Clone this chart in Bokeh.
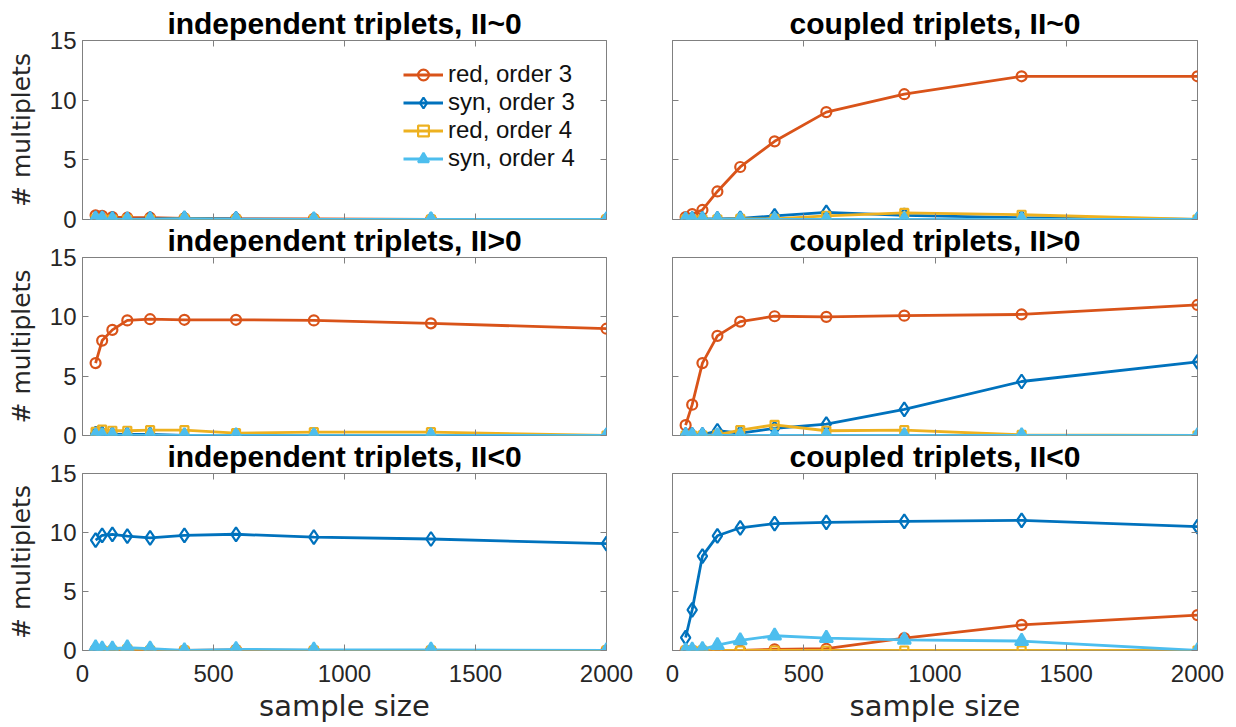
from bokeh.plotting import figure
from bokeh.layouts import column, row
from bokeh.models import Range1d, LinearAxis, Legend, LegendItem, Title
from bokeh.embed import file_html
from bokeh.resources import INLINE

# sample sizes (x positions shared by every panel)
sample_size = [50, 75, 114, 171, 258, 389, 586, 883, 1330, 2000]
x_ticks = [0, 500, 1000, 1500, 2000]
y_ticks = [0, 5, 10, 15]

series_names = ["red, order 3", "syn, order 3", "red, order 4", "syn, order 4"]

# independent triplets, II~0
ind_zero_red3 = [0.35, 0.3, 0.2, 0.15, 0.15, 0.1, 0.05, 0.05, 0.0, 0.0]
ind_zero_syn3 = [0.1, 0.1, 0.05, 0.0, 0.05, 0.1, 0.05, 0.0, 0.0, 0.0]
ind_zero_red4 = [0.05, 0.05, 0.0, 0.0, 0.0, 0.05, 0.0, 0.0, 0.0, 0.0]
ind_zero_syn4 = [0.05, 0.05, 0.0, 0.0, 0.0, 0.05, 0.0, 0.0, 0.0, 0.0]

# coupled triplets, II~0
cpl_zero_red3 = [0.2, 0.45, 0.8, 2.35, 4.4, 6.55, 9.0, 10.5, 12.0, 12.0]
cpl_zero_syn3 = [0.0, 0.05, 0.05, 0.05, 0.1, 0.3, 0.6, 0.35, 0.15, 0.0]
cpl_zero_red4 = [0.0, 0.0, 0.0, 0.0, 0.05, 0.05, 0.3, 0.55, 0.4, 0.0]
cpl_zero_syn4 = [0.0, 0.0, 0.0, 0.0, 0.0, 0.0, 0.0, 0.0, 0.0, 0.0]

# independent triplets, II>0
ind_pos_red3 = [6.1, 8.0, 8.9, 9.7, 9.8, 9.75, 9.75, 9.7, 9.45, 9.0]
ind_pos_syn3 = [0.15, 0.15, 0.1, 0.1, 0.1, 0.0, 0.0, 0.0, 0.0, 0.0]
ind_pos_red4 = [0.3, 0.5, 0.4, 0.4, 0.45, 0.45, 0.2, 0.28, 0.28, 0.0]
ind_pos_syn4 = [0.0, 0.0, 0.0, 0.0, 0.0, 0.0, 0.0, 0.0, 0.0, 0.0]

# coupled triplets, II>0
cpl_pos_red3 = [0.87, 2.6, 6.1, 8.4, 9.6, 10.05, 10.0, 10.1, 10.2, 11.0]
cpl_pos_syn3 = [0.05, 0.05, 0.05, 0.4, 0.2, 0.6, 0.95, 2.2, 4.55, 6.2]
cpl_pos_red4 = [0.0, 0.0, 0.0, 0.05, 0.45, 0.9, 0.4, 0.45, 0.05, 0.0]
cpl_pos_syn4 = [0.0, 0.0, 0.0, 0.0, 0.0, 0.0, 0.0, 0.0, 0.0, 0.0]

# independent triplets, II<0
ind_neg_red3 = [0.05, 0.0, 0.0, 0.05, 0.0, 0.0, 0.05, 0.0, 0.0, 0.0]
ind_neg_syn3 = [9.35, 9.75, 9.85, 9.7, 9.55, 9.75, 9.85, 9.6, 9.45, 9.05]
ind_neg_red4 = [0.0, 0.0, 0.0, 0.1, 0.0, 0.0, 0.0, 0.0, 0.0, 0.0]
ind_neg_syn4 = [0.25, 0.15, 0.15, 0.25, 0.15, 0.0, 0.1, 0.05, 0.05, 0.0]

# coupled triplets, II<0
cpl_neg_red3 = [0.0, 0.0, 0.0, 0.0, 0.0, 0.1, 0.15, 1.05, 2.17, 3.0]
cpl_neg_syn3 = [1.1, 3.45, 8.0, 9.72, 10.4, 10.75, 10.86, 10.95, 11.03, 10.5]
cpl_neg_red4 = [0.0, 0.0, 0.0, 0.0, 0.0, 0.0, 0.0, 0.0, 0.0, 0.0]
cpl_neg_syn4 = [0.0, 0.05, 0.1, 0.45, 0.85, 1.25, 1.05, 0.9, 0.8, 0.0]

panels = [
    ("independent triplets, II~0", [ind_zero_red3, ind_zero_syn3, ind_zero_red4, ind_zero_syn4]),
    ("coupled triplets, II~0", [cpl_zero_red3, cpl_zero_syn3, cpl_zero_red4, cpl_zero_syn4]),
    ("independent triplets, II>0", [ind_pos_red3, ind_pos_syn3, ind_pos_red4, ind_pos_syn4]),
    ("coupled triplets, II>0", [cpl_pos_red3, cpl_pos_syn3, cpl_pos_red4, cpl_pos_syn4]),
    ("independent triplets, II<0", [ind_neg_red3, ind_neg_syn3, ind_neg_red4, ind_neg_syn4]),
    ("coupled triplets, II<0", [cpl_neg_red3, cpl_neg_syn3, cpl_neg_red4, cpl_neg_syn4]),
]

COLORS = ["#D95319", "#0072BD", "#EDB120", "#4DBEEE"]
MARKERS = ["circle", "diamond", "square", "triangle"]
SIZES = [10, 14, 8, 13]
FILLED = [False, False, False, True]

BOX = "#808080"
TICK_TEXT = "#262626"
TICK_FONT = "Liberation Sans"

COL_W = [640, 596]
COL_BORDER = [(82, 34), (32, 39)]
# rows overlap a little (transparent borders) so each title can sit close
# to the panel above it without cutting that panel's lowest tick label
ROW_H = [234, 230, 291]
ROW_BORDER = [(40, 15), (36, 15), (35, 77)]
ROW_SHIFT = [0, -14, -14]


def style_axis(ax, show_labels):
    ax.axis_line_color = None
    ax.major_tick_in = 6
    ax.major_tick_out = 0
    ax.major_tick_line_color = BOX
    ax.minor_tick_line_color = None
    ax.major_label_text_font = TICK_FONT
    if show_labels:
        ax.major_label_text_font_size = "24px"
        ax.major_label_text_color = TICK_TEXT
    else:
        ax.major_label_text_font_size = "1px"
        ax.major_label_text_color = None
        ax.major_label_standoff = 0


def make_panel(idx, title, values):
    r, c = divmod(idx, 2)
    p = figure(
        width=COL_W[c], height=ROW_H[r],
        x_range=Range1d(0, 2000), y_range=Range1d(0, 15),
        output_backend="svg", toolbar_location=None,
        min_border_left=COL_BORDER[c][0], min_border_right=COL_BORDER[c][1],
        min_border_top=ROW_BORDER[r][0], min_border_bottom=ROW_BORDER[r][1],
        background_fill_color="white", border_fill_alpha=0 if r > 0 else 1,
        margin=(ROW_SHIFT[r], 0, 0, 0),
    )
    p.title = Title(text=title, align="center", text_font="Liberation Sans",
                    text_font_style="bold", text_font_size="30px",
                    text_color="black", standoff=2)
    p.xgrid.visible = False
    p.ygrid.visible = False
    p.outline_line_color = BOX
    p.outline_line_width = 1

    p.add_layout(LinearAxis(), "above")
    p.add_layout(LinearAxis(), "right")
    p.xaxis.ticker = x_ticks
    p.yaxis.ticker = y_ticks

    bottom_row = (r == 2)
    left_col = (c == 0)
    style_axis(p.below[0], bottom_row)
    style_axis(p.left[0], left_col)
    style_axis(p.above[0], False)
    style_axis(p.right[0], False)
    if bottom_row:
        ax = p.below[0]
        ax.major_label_standoff = 14
        ax.axis_label = "sample size"
        ax.axis_label_text_font = "DejaVu Sans"
        ax.axis_label_text_font_size = "29px"
        ax.axis_label_text_font_style = "normal"
        ax.axis_label_text_color = TICK_TEXT
        ax.axis_label_standoff = 4
    if left_col:
        ax = p.left[0]
        ax.major_label_standoff = 6
        ax.axis_label = "# multiplets"
        ax.axis_label_text_font = "DejaVu Sans"
        ax.axis_label_text_font_size = "25px"
        ax.axis_label_text_font_style = "normal"
        ax.axis_label_text_color = TICK_TEXT
        ax.axis_label_standoff = 11

    items = []
    for name, ys, col, mk, sz, filled in zip(series_names, values, COLORS, MARKERS, SIZES, FILLED):
        ln = p.line(sample_size, ys, line_color=col, line_width=2.8)
        sc = p.scatter(sample_size, ys, marker=mk, size=sz, line_color=col,
                       line_width=2.2, fill_color=col if filled else None)
        items.append(LegendItem(label=name, renderers=[ln, sc]))

    if idx == 0:
        legend = Legend(
            items=items, location=(321, 47),
            border_line_color=None, background_fill_alpha=0,
            label_text_font=TICK_FONT, label_text_font_size="24px", label_text_color="#111111",
            glyph_width=40, glyph_height=27, label_height=27, label_standoff=5,
            padding=0, margin=0, spacing=0,
        )
        p.add_layout(legend)
    return p


figs = [make_panel(i, t, v) for i, (t, v) in enumerate(panels)]
layout = column(
    row(figs[0], figs[1], spacing=0),
    row(figs[2], figs[3], spacing=0),
    row(figs[4], figs[5], spacing=0),
    spacing=0,
)

open("out.html", "w").write(file_html(layout, INLINE))
